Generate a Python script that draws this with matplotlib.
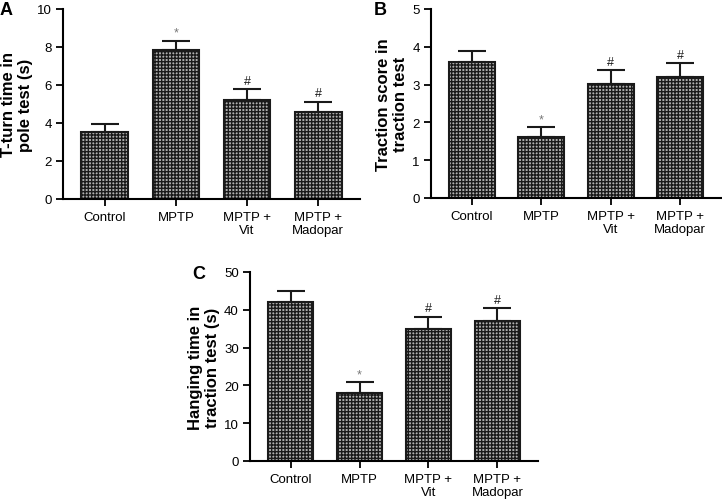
import matplotlib as mpl
import matplotlib.pyplot as plt

mpl.rcParams.update(
    {
        "font.family": ["Liberation Sans", "DejaVu Sans"],
        "hatch.linewidth": 1.0,
        "hatch.color": "#333333",
    }
)

GROUPS = ["Control", "MPTP", "MPTP +\nVit", "MPTP +\nMadopar"]
MARKS = ["", "*", "#", "#"]

# panel A: T-turn time in pole test
pole_mean = [3.53, 7.82, 5.22, 4.6]
pole_sem = [0.44, 0.5, 0.56, 0.52]

# panel B: traction score
traction_mean = [3.61, 1.61, 3.01, 3.2]
traction_sem = [0.27, 0.26, 0.38, 0.36]

# panel C: hanging time
hanging_mean = [42.1, 18.0, 35.0, 37.1]
hanging_sem = [3.0, 2.8, 3.2, 3.4]


def bar_panel(ax, means, sems, ymax, step, ylabel, letter, letter_xy):
    x = range(len(GROUPS))
    ax.bar(
        x,
        means,
        width=0.66,
        color="#b0b0b0",
        edgecolor="#1a1a1a",
        linewidth=1.5,
        hatch="+++++",
        zorder=2,
    )
    ax.errorbar(
        x,
        means,
        yerr=[[0] * len(sems), sems],
        fmt="none",
        ecolor="#1a1a1a",
        elinewidth=1.5,
        capsize=10,
        capthick=1.5,
        zorder=1,
    )
    for xi, m, s, mark in zip(x, means, sems, MARKS):
        if not mark:
            continue
        ax.text(
            xi,
            m + s + ymax * 0.012,
            mark,
            ha="center",
            va="bottom",
            fontsize=9,
            color="#777777" if mark == "*" else "#1a1a1a",
        )
    ax.set_xlim(-0.59, 3.59)
    ax.set_ylim(0, ymax)
    ax.set_yticks([i * step for i in range(int(ymax / step) + 1)])
    ax.set_xticks(list(x))
    ax.set_xticklabels(GROUPS, fontsize=9.5, linespacing=1.1)
    ax.tick_params(axis="y", labelsize=9.5, width=1.3, length=5, direction="out", pad=3)
    ax.tick_params(axis="x", width=1.3, length=5, direction="out")
    ax.spines[["top", "right"]].set_visible(False)
    ax.spines[["left", "bottom"]].set_linewidth(1.5)
    ax.set_ylabel(ylabel, fontsize=12, fontweight="bold", linespacing=1.15, labelpad=3)
    ax.get_figure().text(
        letter_xy[0], letter_xy[1], letter, fontsize=13, fontweight="bold", va="top"
    )


def main():
    W, H = 722, 502
    fig = plt.figure(figsize=(W / 100, H / 100), dpi=100)

    def axes_px(left, right, top, bottom):
        return fig.add_axes(
            [left / W, 1 - bottom / H, (right - left) / W, (bottom - top) / H]
        )

    ax_a = axes_px(63, 360, 10, 200)
    ax_b = axes_px(431, 721, 10, 199)
    ax_c = axes_px(250, 538, 273, 462)

    bar_panel(ax_a, pole_mean, pole_sem, 10, 2, "T-turn time in\npole test (s)", "A", (0.0 / W, 1 - 2 / H))
    bar_panel(ax_b, traction_mean, traction_sem, 5, 1, "Traction score in\ntraction test", "B", (374 / W, 1 - 2 / H))
    bar_panel(ax_c, hanging_mean, hanging_sem, 50, 10, "Hanging time in\ntraction test (s)", "C", (192 / W, 1 - 266 / H))

    fig.savefig("out.png", dpi=100, facecolor="white")


if __name__ == "__main__":
    main()
